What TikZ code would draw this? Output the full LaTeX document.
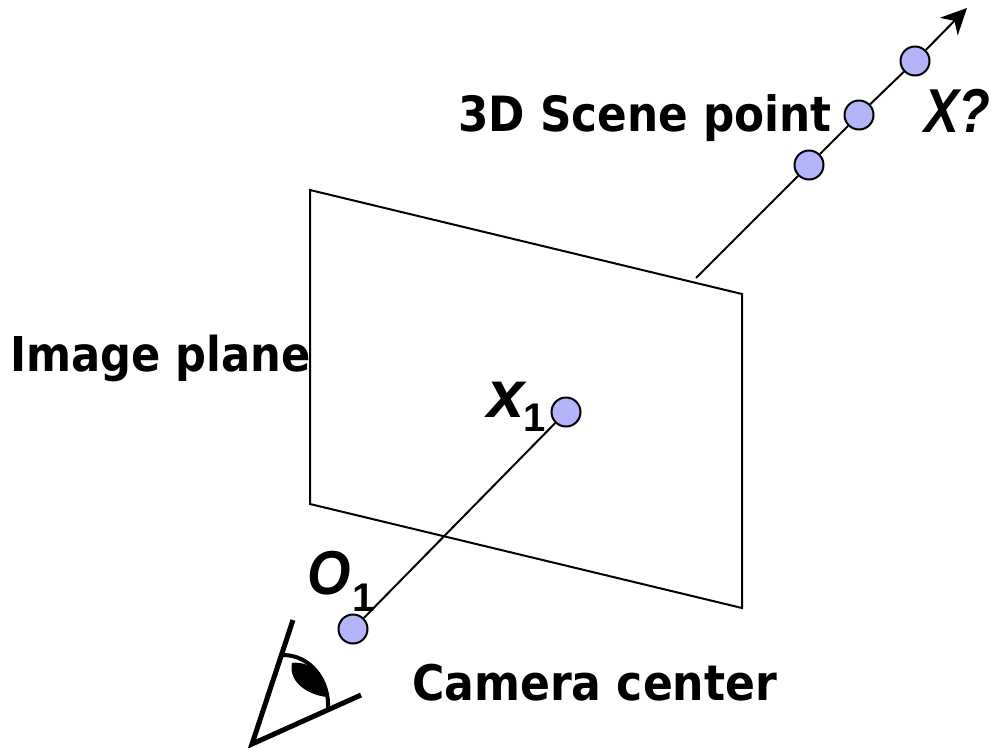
\documentclass[tikz,border=0pt]{standalone}
\usepackage{graphicx}
\usepackage{fontspec}
\setmainfont{Liberation Sans}
\newfontfamily\tahfont{DejaVu Sans Condensed}
\usetikzlibrary{arrows.meta}
\definecolor{ptblue}{RGB}{180,180,250}
\tikzset{
 pt/.style={circle,draw=black,line width=2pt,fill=ptblue,minimum size=29pt,inner sep=0pt},
 lab/.style={font=\tahfont\fontsize{48.6}{48.6}\selectfont\bfseries,inner sep=0pt,text=black},
 sublab/.style={font=\fontsize{40}{40}\selectfont\bfseries,inner sep=0pt,text=black},
 mathlab/.style={font=\fontsize{62}{62}\selectfont\bfseries\itshape,inner sep=0pt},
 ln/.style={line width=2pt,draw=black},
 eyeln/.style={line width=5pt,draw=black}
}
\begin{document}
\begin{tikzpicture}[x=1pt,y=-1pt]
\useasboundingbox (0,0) rectangle (995,747);
\draw[ln] (310,190) -- (742,294) -- (742,608) -- (310,504) -- cycle;
\coordinate (pl) at (696,278);
\coordinate (tip) at (967,8);
\node[pt] (x1) at (566,412) {};
\node[pt] (o1) at (353,629) {};
\node[pt] (p1) at (809,165) {};
\node[pt] (p2) at (859,115) {};
\node[pt] (p3) at (915,61) {};
\draw[ln] (o1) -- (x1);
\draw[ln] (pl) -- (p1);
\draw[ln] (p1) -- (p2);
\draw[ln] (p2) -- (p3);
\draw[ln,-{Stealth[length=26pt,width=25pt,inset=8pt]}] (p3) -- (tip);
\node[lab,anchor=base east] (t3d) at (832,131) {3D Scene point};
\node[lab,anchor=base west,font=\tahfont\fontsize{48}{48}\selectfont\bfseries] (tim) at (10,371) {Image plane};
\node[lab,anchor=base west,font=\tahfont\fontsize{49}{49}\selectfont\bfseries] (tcam) at (412,700) {Camera center};
\node[mathlab,anchor=base west,font=\fontsize{67}{67}\selectfont\bfseries\itshape] (tx) at (487,417) {x};
\node[sublab,anchor=base west] (tx1) at (523,431) {1};
\node[mathlab,anchor=base west] (to) at (307,594) {\scalebox{0.9}[1]{O}};
\node[sublab,anchor=base west] (to1) at (352,611) {1};
\node[mathlab,anchor=base west] (tq) at (924,132) {\scalebox{0.84}[1]{X?}};
\draw[eyeln] (293,620) -- (252,744) -- (361,695);
\draw[line width=4pt] (283,655) .. controls (310,655) and (330,680) .. (328,710);
\fill[black] (292,663) .. controls (312,660) and (328,680) .. (327,697) .. controls (308,695) and (288,682) .. (292,663) -- cycle;
\end{tikzpicture}
\end{document}
